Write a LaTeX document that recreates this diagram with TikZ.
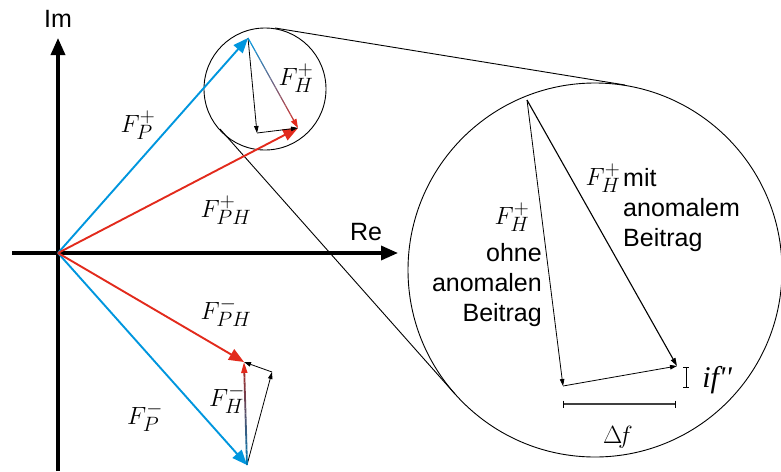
\documentclass[tikz,border=0pt]{standalone}
\usepackage{fontspec}
\setsansfont{Liberation Sans}
\newfontfamily\timesfont{Liberation Serif}
\usetikzlibrary{arrows.meta,calc}
\definecolor{vblue}{RGB}{0,150,222}
\definecolor{vred}{RGB}{226,42,28}
\begin{document}
\begin{tikzpicture}[x=1pt,y=-1pt,
  axis/.style={line width=3.4pt,-{Triangle[length=17pt,width=14pt]}},
  bigvec/.style={line width=1.9pt,-{Triangle[length=15pt,width=12pt]}},
  thinvec/.style={line width=0.8pt,-{Triangle[length=7pt,width=4.5pt]}},
  lens/.style={line width=0.9pt},
  mlabel/.style={font=\fontsize{31}{36}\selectfont,inner sep=0pt},
  tlabel/.style={font=\sffamily\fontsize{25}{30}\selectfont,inner sep=0pt}]
\useasboundingbox (0,0) rectangle (781,471);
% key points
\coordinate (O) at (58,253);
\coordinate (ImTop) at (58,38);
\coordinate (ImBot) at (58,471);
\coordinate (ReL) at (12,253);
\coordinate (ReR) at (398,253);
\coordinate (Pp) at (248,38);
\coordinate (PHp) at (298,128);
\coordinate (Hp0) at (257,133);
\coordinate (Pm) at (247,465);
\coordinate (PHm) at (244,362);
\coordinate (Hm0) at (272,372);
\coordinate (B0) at (527,100);
\coordinate (B1) at (563,386);
\coordinate (B2) at (677,366);
% lens circles and tangents
\node[draw,circle,lens,minimum size=122pt,inner sep=0pt] (small) at (265,89) {};
\node[draw,circle,lens,minimum size=374pt,inner sep=0pt] (big) at (595,270) {};
\coordinate (T1a) at (275,28);
\coordinate (T1b) at (625,85);
\coordinate (T2a) at (220,129);
\coordinate (T2b) at (455,394);
\draw[lens] (T1a) -- (T1b);
\draw[lens] (T2a) -- (T2b);
% axes
\draw[axis] (ImBot) -- (ImTop);
\draw[axis] (ReL) -- (ReR);
\node[tlabel] (Im) at (58,19) {Im};
\node[tlabel] (Re) at (366,232) {Re};
% main vectors
\draw[bigvec,vblue] (O) -- (Pp);
\draw[bigvec,vred] (O) -- (PHp);
\draw[bigvec,vblue] (O) -- (Pm);
\draw[bigvec,vred] (O) -- (PHm);
% small-circle triangle
\draw[thinvec] (Pp) -- (Hp0);
\draw[thinvec] (Hp0) -- (PHp);
\foreach \i [evaluate=\i as \p using 5*\i, evaluate=\i as \a using \i/20, evaluate=\i as \b using (\i+1)/20] in {0,...,18}
  \draw[line width=1.2pt,vred!\p!vblue] ($(Pp)!\a!(PHp)$) -- ($(Pp)!\b!(PHp)$);
\draw[line width=1.2pt,vred,-{Triangle[length=9pt,width=6pt]}] ($(Pp)!0.95!(PHp)$) -- (PHp);
% lower triangle
\draw[thinvec] (Pm) -- (Hm0);
\draw[thinvec] (Hm0) -- (PHm);
\foreach \i [evaluate=\i as \p using 5*\i, evaluate=\i as \a using \i/20, evaluate=\i as \b using (\i+1)/20] in {0,...,18}
  \draw[line width=1.8pt,vred!\p!vblue!80!black] ($(Pm)!\a!(PHm)$) -- ($(Pm)!\b!(PHm)$);
\draw[line width=1.8pt,vred,-{Triangle[length=11pt,width=6pt]}] ($(Pm)!0.9!(PHm)$) -- (PHm);
% labels left
\node[mlabel] (lPp) at (138,125) {$F_P^+$};
\node[mlabel] (lHp) at (296,78) {$F_H^+$};
\node[mlabel] (lPHp) at (226,210) {$F_{PH}^+$};
\node[mlabel] (lPHm) at (226,312) {$F_{PH}^-$};
\node[mlabel] (lHm) at (227,399) {$F_H^-$};
\node[mlabel] (lPm) at (145,417) {$F_P^-$};
% magnified triangle
\draw[thinvec] (B0) -- (B1);
\draw[thinvec] (B1) -- (B2);
\draw[line width=1.1pt,-{Triangle[length=8pt,width=5pt]}] (B0) -- (B2);
\node[mlabel] (lBm) at (603,178) {$F_H^+$};
\node[tlabel,anchor=west,align=left] (tm) at (623,210) {mit\\anomalem\\Beitrag};
\node[mlabel] (lBo) at (512,217) {$F_H^+$};
\node[tlabel,anchor=east,align=right] (to) at (542,285) {ohne\\anomalen\\Beitrag};
% if'' bracket
\coordinate (Ia) at (686,367);
\coordinate (Ib) at (686,387);
\draw[line width=0.9pt] (Ia) -- (Ib);
\draw[line width=0.9pt] ($(Ia)+(-3,0)$) -- ($(Ia)+(3,0)$);
\draw[line width=0.9pt] ($(Ib)+(-3,0)$) -- ($(Ib)+(3,0)$);
\node[font=\timesfont\itshape\fontsize{30}{34}\selectfont,inner sep=0pt] (lif) at (717,380) {if\char"27\char"27};
% delta f bar
\coordinate (Da) at (563,404);
\coordinate (Db) at (675,404);
\draw[line width=1.2pt,black!75] (Da) -- (Db);
\draw[line width=0.9pt] ($(Da)+(0,-3.5)$) -- ($(Da)+(0,3.5)$);
\draw[line width=0.9pt] ($(Db)+(0,-3.5)$) -- ($(Db)+(0,3.5)$);
\node[mlabel] (ldf) at (618,437) {$\Delta\!f$};
\end{tikzpicture}
\end{document}
